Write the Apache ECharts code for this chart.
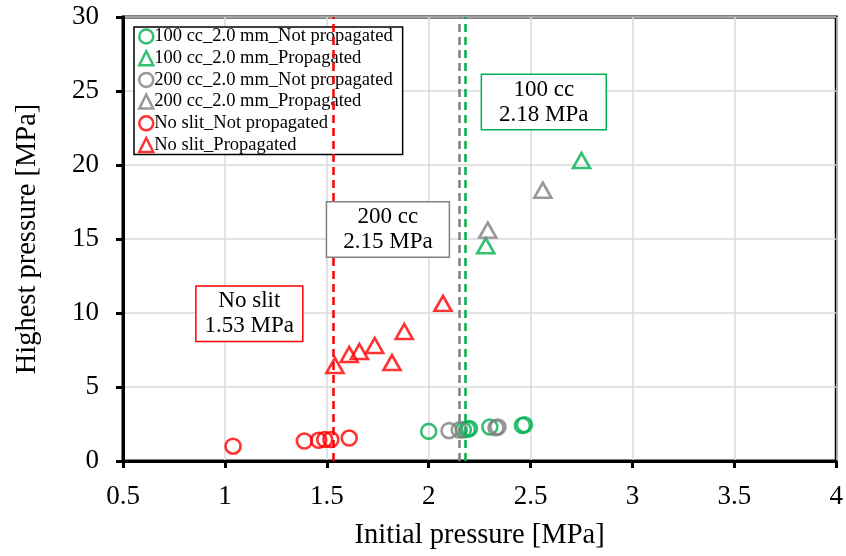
<!DOCTYPE html>
<html><head><meta charset="utf-8">
<script src="https://cdn.jsdelivr.net/npm/echarts@6/dist/echarts.min.js"></script>
<style>html,body{margin:0;padding:0;background:#fff}#c{width:846px;height:556px}</style>
</head><body><div id="c"></div>
<script>
var green100NP = [[2.00,2.0],[2.17,2.1],[2.19,2.15],[2.20,2.2],[2.30,2.3],[2.46,2.4],[2.47,2.45]];
var green100P = [[2.28,14.55],[2.75,20.3]];
var gray200NP = [[2.10,2.05],[2.15,2.1],[2.33,2.25],[2.34,2.3]];
var gray200P = [[2.29,15.6],[2.56,18.3]];
var redNP = [[1.04,1.0],[1.39,1.35],[1.46,1.4],[1.49,1.45],[1.52,1.45],[1.61,1.55]];
var redP = [[1.54,6.45],[1.61,7.2],[1.66,7.4],[1.735,7.8],[1.82,6.65],[1.88,8.75],[2.07,10.65]];
var thresholds = [
  {name:'No slit', value:1.53, color:'#FF0000', label:'No slit\n1.53 MPa', at:[1.12,9.95], pad:8},
  {name:'200 cc', value:2.15, color:'#808080', label:'200 cc\n2.15 MPa', at:[1.80,15.65], pad:16},
  {name:'100 cc', value:2.18, color:'#00B050', label:'100 cc\n2.18 MPa', at:[2.565,24.25], pad:17}
];
var xTicks = [0.5,1,1.5,2,2.5,3,3.5,4];
var yTicks = [0,5,10,15,20,25,30];

var FONT = 'Liberation Serif';
function sc(name, data, sym, color, z){
  return {
    name: name, type:'scatter', data: data, symbol: sym,
    symbolSize: sym==='circle' ? 15 : [17,15], z: z||3,
    itemStyle:{color:'rgba(255,255,255,0)', borderColor: color, borderWidth: 2.6},
    emphasis:{disabled:true}
  };
}
var series = [
  sc('100 cc_2.0 mm_Not propagated', green100NP, 'circle', '#00B050'),
  sc('100 cc_2.0 mm_Propagated', green100P, 'triangle', '#00B050'),
  sc('200 cc_2.0 mm_Not propagated', gray200NP, 'circle', '#808080'),
  sc('200 cc_2.0 mm_Propagated', gray200P, 'triangle', '#808080'),
  sc('No slit_Not propagated', redNP, 'circle', '#FF0000'),
  sc('No slit_Propagated', redP, 'triangle', '#FF0000')
];
thresholds.forEach(function(t){
  series.push({
    type:'scatter', data:[], silent:true, z:2,
    markLine:{
      silent:true, symbol:['none','none'], animation:false,
      lineStyle:{color:t.color, type:[8,5], width:2.5},
      label:{show:false},
      data:[[{coord:[t.value,0]},{coord:[t.value,30]}]]
    },
    markPoint:{
      silent:true, animation:false, symbol:'rect', symbolSize:0,
      data:[{coord:t.at}],
      label:{show:true, formatter:t.label, color:'#000', fontFamily:FONT, fontSize:23, lineHeight:25,
        backgroundColor:'#fff', borderColor:t.color, borderWidth:1.5, padding:[2,t.pad,2,t.pad], align:'center', position:'inside'}
    }
  });
});

var chart = echarts.init(document.getElementById('c'), null, {renderer:'canvas'});
chart.setOption({
  animation:false,
  backgroundColor:'#fff',
  grid:{left:123, right:8, top:17, bottom:95, show:true, borderColor:'#000', borderWidth:3, backgroundColor:'transparent'},
  legend:{
    orient:'vertical', left:134, top:27, padding:[0,10,0,4], itemGap:2.7,
    itemWidth:14, itemHeight:14, backgroundColor:'#fff', borderColor:'#000', borderWidth:1.5,
    textStyle:{fontFamily:FONT, fontSize:18.5, color:'#000', padding:[0,0,0,-4]},
    data: series.slice(0,6).map(function(s){return {name:s.name, icon:s.symbol==='circle'?'circle':'triangle', itemStyle:{color:'#fff', borderColor:s.itemStyle.borderColor, borderWidth:2.5}};})
  },
  xAxis:{
    type:'value', min:0.5, max:4, interval:0.5,
    name:'Initial pressure [MPa]', nameLocation:'middle', nameGap:60,
    nameTextStyle:{fontFamily:FONT, fontSize:28.5, color:'#000'},
    axisLine:{show:true, onZero:false, lineStyle:{color:'#000', width:3}},
    axisTick:{show:true, inside:false, length:7, lineStyle:{color:'#000', width:3}},
    axisLabel:{fontFamily:FONT, fontSize:27, color:'#000', margin:22,
      formatter:function(v){return xTicks.indexOf(v)>=0 ? String(v) : '';}},
    splitLine:{show:true, lineStyle:{color:'#d9d9d9', width:1.5}}
  },
  yAxis:{
    type:'value', min:0, max:30, interval:5,
    name:'Highest pressure [MPa]', nameLocation:'middle', nameGap:81,
    nameTextStyle:{fontFamily:FONT, fontSize:28.5, color:'#000'},
    axisLine:{show:true, onZero:false, lineStyle:{color:'#000', width:3}},
    axisTick:{show:true, inside:false, length:7, lineStyle:{color:'#000', width:3}},
    axisLabel:{fontFamily:FONT, fontSize:27, color:'#000', margin:24,
      formatter:function(v){return yTicks.indexOf(v)>=0 ? String(v) : '';}},
    splitLine:{show:true, lineStyle:{color:'#d9d9d9', width:1.5}}
  },
  series: series
});
</script></body></html>
